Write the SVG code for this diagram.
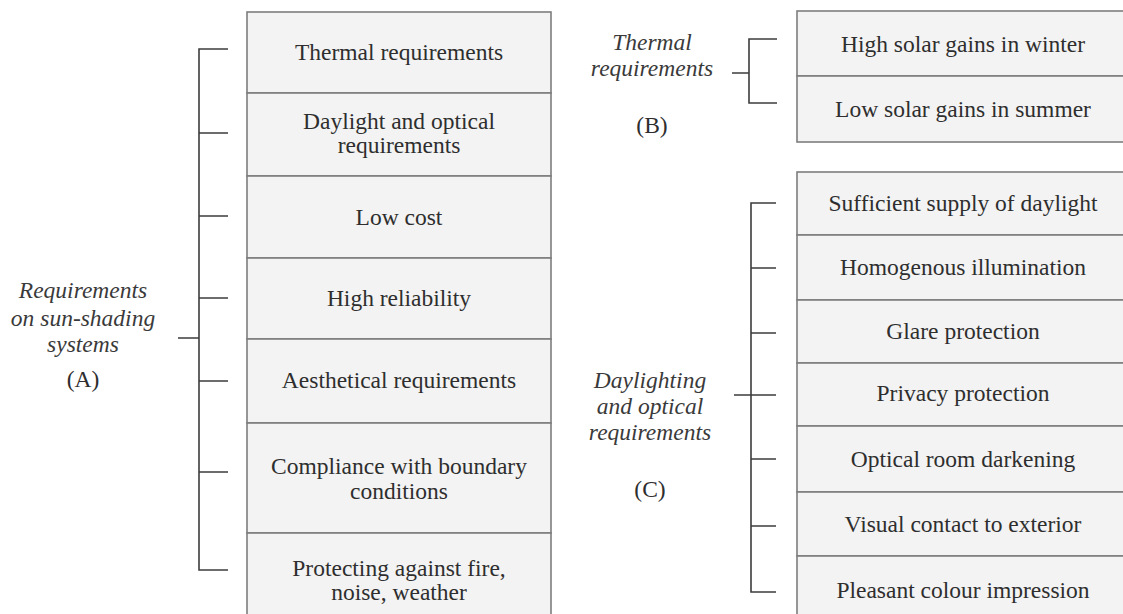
<svg xmlns="http://www.w3.org/2000/svg" width="1123" height="614" viewBox="0 0 1123 614">
<style>
.cell{fill:#f3f3f3;stroke:#7d7d7d;stroke-width:1.6}
.t{font-family:"Liberation Serif","Times New Roman",serif;font-size:23.5px;fill:#2e2e2e;text-anchor:middle}
.i{font-family:"Liberation Serif","Times New Roman",serif;font-size:23.5px;font-style:italic;fill:#3a3a3a;text-anchor:middle}
.br{fill:none;stroke:#3c3c3c;stroke-width:1.6}
</style>
<rect width="1123" height="614" fill="#ffffff"/>

<g id="labelA">
<text class="i" x="83" y="298">Requirements</text>
<text class="i" x="83" y="326">on sun-shading</text>
<text class="i" x="83" y="352">systems</text>
<text class="t" x="83" y="387">(A)</text>
</g>
<g id="labelB">
<text class="i" x="652" y="50">Thermal</text>
<text class="i" x="652" y="76">requirements</text>
<text class="t" x="652" y="133">(B)</text>
</g>
<g id="labelC">
<text class="i" x="650" y="388">Daylighting</text>
<text class="i" x="650" y="414">and optical</text>
<text class="i" x="650" y="440">requirements</text>
<text class="t" x="650" y="497">(C)</text>
</g>

<g id="a1"><rect class="cell" x="247" y="12" width="304" height="81"/><text class="t" x="399" y="60">Thermal requirements</text></g>
<g id="a2"><rect class="cell" x="247" y="93" width="304" height="83"/><text class="t" x="399" y="129">Daylight and optical</text><text class="t" x="399" y="153">requirements</text></g>
<g id="a3"><rect class="cell" x="247" y="176" width="304" height="82"/><text class="t" x="399" y="225">Low cost</text></g>
<g id="a4"><rect class="cell" x="247" y="258" width="304" height="81"/><text class="t" x="399" y="306">High reliability</text></g>
<g id="a5"><rect class="cell" x="247" y="339" width="304" height="84"/><text class="t" x="399" y="388">Aesthetical requirements</text></g>
<g id="a6"><rect class="cell" x="247" y="423" width="304" height="110"/><text class="t" x="399" y="474">Compliance with boundary</text><text class="t" x="399" y="499">conditions</text></g>
<g id="a7"><rect class="cell" x="247" y="533" width="304" height="110"/><text class="t" x="399" y="576">Protecting against fire,</text><text class="t" x="399" y="600">noise, weather</text></g>

<g id="b1"><rect class="cell" x="797" y="11" width="340" height="65"/><text class="t" x="963" y="52">High solar gains in winter</text></g>
<g id="b2"><rect class="cell" x="797" y="76" width="340" height="66"/><text class="t" x="963" y="117">Low solar gains in summer</text></g>

<g id="c1"><rect class="cell" x="797" y="172" width="340" height="63"/><text class="t" x="963" y="211">Sufficient supply of daylight</text></g>
<g id="c2"><rect class="cell" x="797" y="235" width="340" height="65"/><text class="t" x="963" y="275">Homogenous illumination</text></g>
<g id="c3"><rect class="cell" x="797" y="300" width="340" height="63"/><text class="t" x="963" y="339">Glare protection</text></g>
<g id="c4"><rect class="cell" x="797" y="363" width="340" height="63"/><text class="t" x="963" y="401">Privacy protection</text></g>
<g id="c5"><rect class="cell" x="797" y="426" width="340" height="66"/><text class="t" x="963" y="467">Optical room darkening</text></g>
<g id="c6"><rect class="cell" x="797" y="492" width="340" height="64"/><text class="t" x="963" y="532">Visual contact to exterior</text></g>
<g id="c7"><rect class="cell" x="797" y="556" width="340" height="90"/><text class="t" x="963" y="598">Pleasant colour impression</text></g>

<g id="connectors">
<path class="br" d="M228 49H199V570H228M199 133H228M199 216H228M199 298H228M199 381H228M199 472H228M178 338H199"/>
<path class="br" d="M777 39H749V103H777M732 73H749"/>
<path class="br" d="M776 203H751V592H776M751 268H776M751 333H776M751 395H776M751 459H776M751 526H776M734 395H751"/>
</g>
</svg>
